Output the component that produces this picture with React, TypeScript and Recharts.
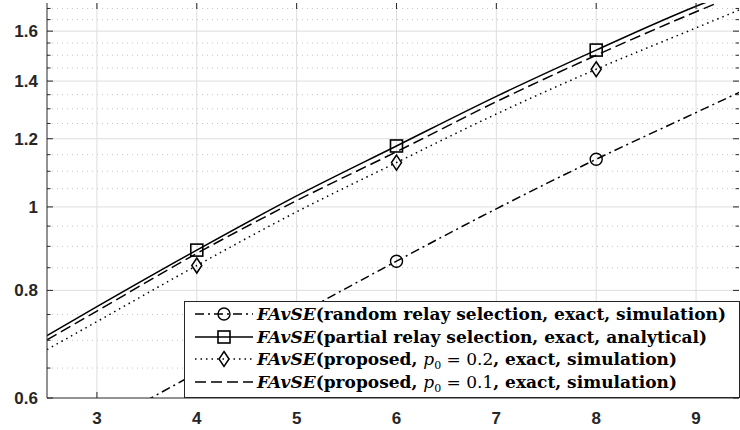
import React from 'react';
import { LineChart, Line, XAxis, YAxis, ReferenceLine, Legend } from 'recharts';

// values (log y axis)
const xValues = [2.5, 3, 4, 5, 6, 7, 8, 9, 9.5];
const randomSel = [0.51, 0.553, 0.642, 0.748, 0.865, 0.995, 1.136, 1.287, 1.37];
const partialSel = [0.709, 0.766, 0.891, 1.03, 1.177, 1.344, 1.521, 1.71, 1.8];
const proposed02 = [0.683, 0.736, 0.855, 0.987, 1.126, 1.282, 1.445, 1.614, 1.706];
const proposed01 = [0.701, 0.757, 0.883, 1.017, 1.159, 1.325, 1.5, 1.685, 1.78];

const markerX = [4, 6, 8];
const xTicks = [3, 4, 5, 6, 7, 8, 9];
const yMajor = [0.6, 0.8, 1, 1.2, 1.4, 1.6];
const yMinor = [0.65, 0.7, 0.75, 0.85, 0.9, 0.95, 1.05, 1.1, 1.15, 1.25, 1.3, 1.35, 1.45, 1.5, 1.55, 1.65, 1.7];
const yTicks = [...yMajor, ...yMinor].sort((a, b) => a - b);

const legendRows = [
  { key: 'random', text: 'random relay selection, exact, simulation' },
  { key: 'partial', text: 'partial relay selection, exact, analytical' },
  { key: 'p02', text: 'proposed, ', p0: '0.2', rest: ', exact, simulation' },
  { key: 'p01', text: 'proposed, ', p0: '0.1', rest: ', exact, simulation' },
];

const data = xValues.map((x, i) => ({
  x,
  random: randomSel[i],
  partial: partialSel[i],
  p02: proposed02[i],
  p01: proposed01[i],
}));

const W = 740;
const H = 430;
const PLOT_L = 47;
const PLOT_R = 739;
const PLOT_T = 3;
const PLOT_B = 398;
const AXIS = '#262626';
const tickFont = { fontFamily: '"Liberation Sans", Arial, sans-serif', fontWeight: 700, fontSize: 17, fill: AXIS };

const styles: Record<string, { dash?: string; marker?: string }> = {
  random: { dash: '9 4 2 4', marker: 'circle' },
  partial: { marker: 'square' },
  p02: { dash: '1.5 4', marker: 'diamond' },
  p01: { dash: '11 5' },
};

const Marker = ({ kind, cx, cy }: { kind?: string; cx: number; cy: number }) => {
  if (kind === 'circle') return <circle cx={cx} cy={cy} r={6} fill="none" stroke="#000" strokeWidth={1.4} />;
  if (kind === 'square') return <rect x={cx - 6} y={cy - 6} width={12} height={12} fill="none" stroke="#000" strokeWidth={1.6} />;
  if (kind === 'diamond')
    return <polygon points={`${cx},${cy - 7.5} ${cx + 5},${cy} ${cx},${cy + 7.5} ${cx - 5},${cy}`} fill="none" stroke="#000" strokeWidth={1.5} />;
  return null;
};

const makeDot = (kind?: string) => (props: any) => {
  const { cx, cy, payload, index } = props;
  if (!kind || cy == null || !markerX.includes(payload.x)) return <g key={index} />;
  return (
    <g key={index}>
      <Marker kind={kind} cx={cx} cy={cy} />
    </g>
  );
};

const YTick = ({ y, payload }: any) => {
  const major = yMajor.includes(payload.value);
  const len = major ? 6 : 3.5;
  return (
    <g>
      <line x1={PLOT_L} x2={PLOT_L + len} y1={y} y2={y} stroke={AXIS} />
      <line x1={PLOT_R - len} x2={PLOT_R} y1={y} y2={y} stroke={AXIS} />
      {major && (
        <text x={PLOT_L - 9} y={y} dy={6} textAnchor="end" {...tickFont}>
          {String(payload.value)}
        </text>
      )}
    </g>
  );
};

const XTick = ({ x, payload }: any) => (
  <g>
    <line x1={x} x2={x} y1={PLOT_B} y2={PLOT_B - 6} stroke={AXIS} />
    <line x1={x} x2={x} y1={PLOT_T} y2={PLOT_T + 6} stroke={AXIS} />
    <text x={x} y={PLOT_B + 26} textAnchor="middle" {...tickFont}>
      {payload.value}
    </text>
  </g>
);

const Sample = ({ k }: { k: string }) => {
  const s = styles[k];
  return (
    <svg width={60} height={22} style={{ display: 'block', flex: 'none' }}>
      <line x1={1} x2={59} y1={11} y2={11} stroke="#000" strokeWidth={1.5} strokeDasharray={s.dash} />
      {s.marker && <Marker kind={s.marker} cx={30} cy={11} />}
    </svg>
  );
};

const LegendBox = () => (
  <div
    style={{
      boxSizing: 'border-box',
      width: '100%',
      height: '100%',
      background: '#fff',
      border: `1px solid ${AXIS}`,
      padding: '1px 0 0 9px',
      fontFamily: '"DejaVu Serif", serif',
      fontWeight: 700,
      fontSize: 17,
      color: '#000',
    }}
  >
    {legendRows.map((r) => (
      <div key={r.key} style={{ display: 'flex', alignItems: 'center', height: 22.5, whiteSpace: 'nowrap' }}>
        <Sample k={r.key} />
        <span style={{ marginLeft: 3 }}>
          <i>FAvSE</i>(
          {r.text}
          {r.p0 && (
            <>
              <i style={{ fontWeight: 400 }}>p</i>
              <sub style={{ fontSize: 11, fontWeight: 400, lineHeight: 0 }}>0</sub>
              <span style={{ fontWeight: 400 }}> = {r.p0}</span>
              {r.rest}
            </>
          )}
          )
        </span>
      </div>
    ))}
  </div>
);

export default function App() {
  return (
    <div style={{ position: 'absolute', left: 0, top: 0, width: W, height: H, background: '#fff' }}>
      <LineChart width={W} height={H} data={data} margin={{ top: PLOT_T, right: W - PLOT_R, left: 0, bottom: 0 }}>
        <XAxis
          dataKey="x"
          type="number"
          domain={[2.5, 9.43]}
          allowDataOverflow
          ticks={xTicks}
          interval={0}
          height={H - PLOT_B}
          tick={<XTick />}
          tickLine={false}
          axisLine={{ stroke: AXIS }}
        />
        <XAxis xAxisId="top" orientation="top" type="number" dataKey="x" domain={[2.5, 9.43]} allowDataOverflow height={0} tick={false} tickLine={false} axisLine={{ stroke: AXIS }} />
        <YAxis
          type="number"
          scale="log"
          domain={[0.6, 1.725]}
          allowDataOverflow
          ticks={yTicks}
          interval={0}
          width={PLOT_L}
          tick={<YTick />}
          tickLine={false}
          axisLine={{ stroke: AXIS }}
        />
        <YAxis yAxisId="right" orientation="right" type="number" scale="log" domain={[0.6, 1.725]} allowDataOverflow width={0} tick={false} tickLine={false} axisLine={{ stroke: AXIS }} />

        {yMinor.map((v) => (
          <ReferenceLine key={'mn' + v} y={v} stroke="#c4c4c4" strokeDasharray="1 4" />
        ))}
        {yMajor.slice(1).map((v) => (
          <ReferenceLine key={'mj' + v} y={v} stroke="#dedede" />
        ))}
        {xTicks.map((v) => (
          <ReferenceLine key={'vx' + v} x={v} stroke="#dedede" />
        ))}

        <Line dataKey="random" type="monotone" stroke="#000" strokeWidth={1.5} strokeDasharray={styles.random.dash} dot={makeDot('circle')} activeDot={false} isAnimationActive={false} />
        <Line dataKey="partial" type="monotone" stroke="#000" strokeWidth={1.5} dot={makeDot('square')} activeDot={false} isAnimationActive={false} />
        <Line dataKey="p02" type="monotone" stroke="#000" strokeWidth={1.5} strokeDasharray={styles.p02.dash} dot={makeDot('diamond')} activeDot={false} isAnimationActive={false} />
        <Line dataKey="p01" type="monotone" stroke="#000" strokeWidth={1.5} strokeDasharray={styles.p01.dash} dot={false} activeDot={false} isAnimationActive={false} />

        <Legend
          layout="vertical"
          align="center"
          verticalAlign="middle"
          wrapperStyle={{ left: 184, top: 301, width: PLOT_R - 184 + 1, height: PLOT_B - 301 }}
          content={() => <LegendBox />}
        />
      </LineChart>
    </div>
  );
}
